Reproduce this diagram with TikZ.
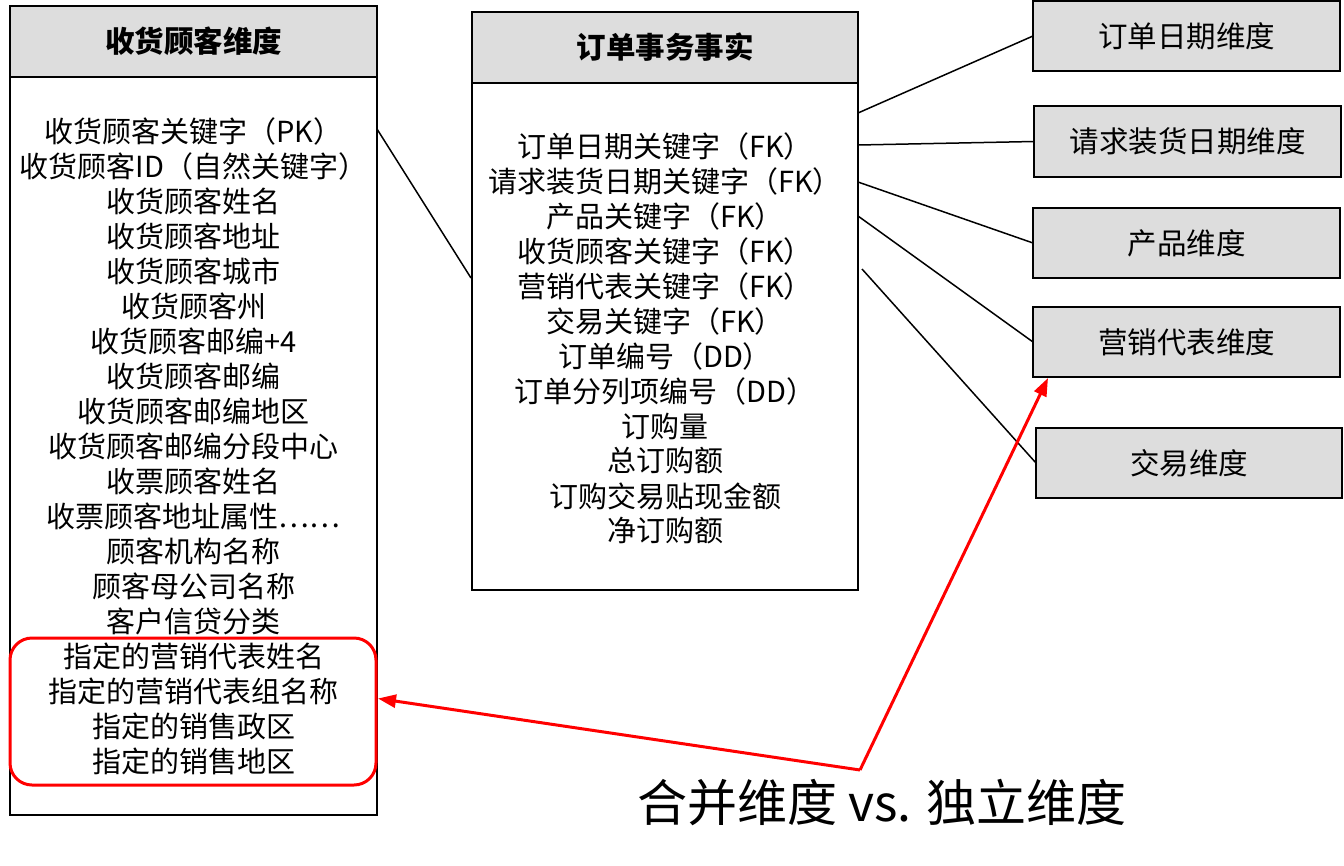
\documentclass[tikz,border=0pt]{standalone}
\usepackage{fontspec}
\setmainfont{Noto Sans CJK SC}
\usetikzlibrary{arrows.meta,calc}
\definecolor{hdr}{HTML}{DDDDDD}
\definecolor{rd}{HTML}{FF0000}
\tikzset{
 box/.style={draw=black, line width=1.8pt, anchor=north west, inner sep=0pt, outer sep=0pt},
 hdrbox/.style={box, fill=hdr},
 titletext/.style={font=\fontsize{29.5}{32}\selectfont\bfseries},
 dimtext/.style={font=\fontsize{29.5}{32}\selectfont},
 itemtext/.style={font=\fontsize{29}{32}\selectfont, inner sep=0pt},
 conn/.style={line width=1.5pt},
 redarrow/.style={draw=rd, line width=3pt, -{Triangle[length=18pt,width=13pt]}},
}
\begin{document}
\begin{tikzpicture}[x=1pt,y=-1pt]
\useasboundingbox (0,0) rectangle (1344,865);
% customer dimension
\node[box, minimum width=367pt, minimum height=809pt] (cust) at (10,6) {};
\node[hdrbox, titletext, minimum width=367pt, minimum height=71pt] (custh) at (10,6) {收货顾客维度};
\foreach \t [count=\i] in {收货顾客关键字（PK）,收货顾客ID（自然关键字）,收货顾客姓名,收货顾客地址,收货顾客城市,收货顾客州,收货顾客邮编+4,收货顾客邮编,收货顾客邮编地区,收货顾客邮编分段中心,收票顾客姓名,收票顾客地址属性……,顾客机构名称,顾客母公司名称,客户信贷分类,指定的营销代表姓名,指定的营销代表组名称,指定的销售政区,指定的销售地区}
  \node[itemtext] (ci\i) at (193.5,{131+35*(\i-1)}) {\t};
\node[draw=rd, line width=3pt, rounded corners=22pt, anchor=north west, inner sep=0pt, outer sep=0pt, minimum width=366pt, minimum height=147pt] (grp) at (10,638) {};
% fact table
\node[box, minimum width=386pt, minimum height=578pt] (fact) at (472,12) {};
\node[hdrbox, titletext, minimum width=386pt, minimum height=71pt] (facth) at (472,12) {订单事务事实};
\foreach \t [count=\i] in {订单日期关键字（FK）,请求装货日期关键字（FK）,产品关键字（FK）,收货顾客关键字（FK）,营销代表关键字（FK）,交易关键字（FK）,订单编号（DD）,订单分列项编号（DD）,订购量,总订购额,订购交易贴现金额,净订购额}
  \node[itemtext] (fi\i) at (665,{146+35*(\i-1)}) {\t};
% dimensions
\node[hdrbox, dimtext, minimum width=307pt, minimum height=70pt] (d1) at (1033,1) {订单日期维度};
\node[hdrbox, dimtext, minimum width=307pt, minimum height=71pt] (d2) at (1034,106) {请求装货日期维度};
\node[hdrbox, dimtext, minimum width=307pt, minimum height=70pt] (d3) at (1033,208) {产品维度};
\node[hdrbox, dimtext, minimum width=307pt, minimum height=70pt] (d4) at (1033,307) {营销代表维度};
\node[hdrbox, dimtext, minimum width=306pt, minimum height=70pt] (d5) at (1036,428) {交易维度};
% connectors
\draw[conn] ($(fact.north east)+(0,101)$) -- (d1.west);
\draw[conn] ($(fact.north east)+(0,133)$) -- (d2.west);
\draw[conn] ($(fact.north east)+(0,170)$) -- (d3.west);
\draw[conn] ($(fact.north east)+(0,204)$) -- (d4.west);
\draw[conn] ($(fact.north east)+(4,257)$) -- (d5.west);
\draw[conn] ($(cust.north east)+(0,123)$) -- ($(fact.north west)+(-1,266)$);
% red arrows
\coordinate (rv) at (860,770);
\draw[redarrow] (rv) -- ($(d4.south west)+(15,1)$);
\draw[redarrow] (rv) -- ($(grp.east)+(2,-13)$);
\node[font=\fontsize{50}{54}\selectfont] (ttl) at (882,803) {合并维度 vs. 独立维度};
\end{tikzpicture}
\end{document}
